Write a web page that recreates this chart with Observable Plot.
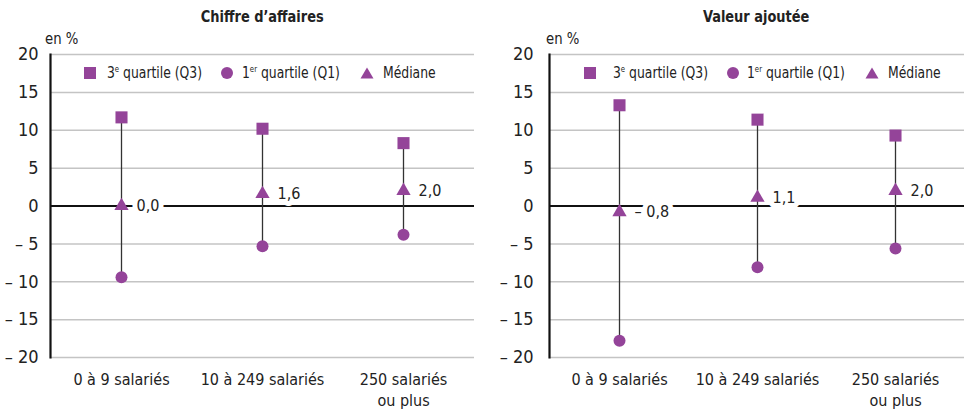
<!DOCTYPE html>
<html>
<head>
<meta charset="utf-8">
<script src="https://cdn.jsdelivr.net/npm/d3@7"></script>
<script src="https://cdn.jsdelivr.net/npm/@observablehq/plot@0.6"></script>
<style>
  body { margin: 0; background: #fff; font-family: "Liberation Sans Narrow", "Arial Narrow", "DejaVu Sans Condensed", sans-serif; }
  #wrap { position: relative; width: 964px; height: 409px; overflow: hidden; }
  .panel { position: absolute; top: 0; }
  .title { position: absolute; top: 7px; font-weight: bold; font-size: 16px; color: #222; text-align: center; white-space: nowrap; }
  .title span { display: inline-block; transform: scaleX(0.9); }
  .unit { position: absolute; top: 29px; font-size: 16px; color: #222; transform: scaleX(0.92); transform-origin: left center; }
  .legend { position: absolute; top: 63px; font-size: 16px; color: #222; white-space: nowrap; }
  .legend span.item { position: absolute; }
  .legend span.txt { transform: scaleX(0.86); transform-origin: left center; }
  .legend sup { font-size: 9px; vertical-align: 6px; line-height: 0; }
  .panel svg { position: absolute; left: 0; }
</style>
</head>
<body>
<div id="wrap"></div>
<script>
const categories = ["0 à 9 salariés", "10 à 249 salariés", "250 salariés\nou plus"];
const panelTitles = ["Chiffre d’affaires", "Valeur ajoutée"];
const yTicks = [-20, -15, -10, -5, 0, 5, 10, 15, 20];

// Chiffre d'affaires
const caQ3 = [11.7, 10.2, 8.3];
const caQ1 = [-9.4, -5.3, -3.8];
const caMed = [0.0, 1.6, 2.0];

// Valeur ajoutée
const vaQ3 = [13.3, 11.4, 9.3];
const vaQ1 = [-17.8, -8.1, -5.6];
const vaMed = [-0.8, 1.1, 2.0];

const purple = "#944499";
const font = '"Liberation Sans Narrow", "Arial Narrow", "DejaVu Sans Condensed", sans-serif';

const fmtNum = v => (v < 0 ? "– " : "") + Math.abs(v).toFixed(1).replace(".", ",");
const fmtTick = v => (v < 0 ? "– " : "") + Math.abs(v);

function makePanel(q3, q1, med, opts) {
  const rows = categories.map((c, i) => ({cat: c, q3: q3[i], q1: q1[i], med: med[i]}));
  return Plot.plot({
    width: opts.width,
    height: 381,
    marginLeft: opts.marginLeft,
    marginRight: opts.marginRight,
    marginTop: 26,
    marginBottom: 52,
    style: {fontFamily: font, fontSize: "18px", color: "#222", background: "transparent"},
    x: {type: "point", domain: categories, padding: 0.5, label: null},
    y: {domain: [-20, 20], label: null},
    marks: [
      Plot.ruleY(yTicks, {stroke: "#c4c4c4", strokeWidth: 1.5}),
      Plot.ruleY([0], {stroke: "#111", strokeWidth: 2}),
      Plot.ruleX(rows, {x: "cat", y1: "q1", y2: "q3", stroke: "#333", strokeWidth: 1.3}),
      Plot.text(rows, {x: "cat", y: "med", text: d => fmtNum(d.med), textAnchor: "start", dx: 15, dy: 0,
        fontSize: 16, fill: "#222", stroke: "white", strokeWidth: 10, paintOrder: "stroke"}),
      Plot.dot(rows, {x: "cat", y: "q3", symbol: "square", r: 6.8, fill: purple, stroke: "none"}),
      Plot.dot(rows, {x: "cat", y: "q1", symbol: "circle", r: 6, fill: purple, stroke: "none"}),
      Plot.dot(rows, {x: "cat", y: "med", symbol: "triangle", r: 5.3, fill: purple, stroke: "none"}),
      Plot.axisY({ticks: yTicks, tickSize: 0, tickPadding: opts.tickPadding, tickFormat: fmtTick, fontSize: 18, label: null}),
      Plot.axisX({tickSize: 0, tickPadding: 13, fontSize: 16, label: null, lineHeight: 1.3}),
      Plot.frame({anchor: "left", stroke: "#111", strokeWidth: 2.2})
    ]
  });
}

const wrap = document.getElementById("wrap");
const panels = [
  {left: 0, width: 482, marginLeft: 50, marginRight: 8, tickPadding: 12, q3: caQ3, q1: caQ1, med: caMed, unitX: 45,
   leg: [[90, 107], [227, 242], [367, 383]]},
  {left: 482, width: 482, marginLeft: 67, marginRight: 0, tickPadding: 16, q3: vaQ3, q1: vaQ1, med: vaMed, unitX: 64,
   leg: [[108, 131], [251, 265], [390, 406]]}
];
const legendItems = [
  {sym: "square", html: "3<sup>e</sup> quartile (Q3)"},
  {sym: "circle", html: "1<sup>er</sup> quartile (Q1)"},
  {sym: "triangle", html: "Médiane"}
];
const symPaths = {
  square: '<rect x="1" y="1" width="12" height="12" fill="' + purple + '"/>',
  circle: '<circle cx="7" cy="7" r="6" fill="' + purple + '"/>',
  triangle: '<path d="M7 1.5 L13.5 12.5 L0.5 12.5 Z" fill="' + purple + '"/>'
};

panels.forEach((p, k) => {
  const div = document.createElement("div");
  div.className = "panel";
  div.style.left = p.left + "px";
  div.style.width = p.width + "px";
  div.style.height = "409px";

  const t = document.createElement("div");
  t.className = "title";
  t.innerHTML = "<span></span>";
  t.firstChild.textContent = panelTitles[k];
  t.style.left = p.marginLeft + "px";
  t.style.width = (p.width - p.marginLeft - p.marginRight) + "px";
  div.appendChild(t);

  const u = document.createElement("div");
  u.className = "unit";
  u.textContent = "en %";
  u.style.left = p.unitX + "px";
  div.appendChild(u);

  const svg = makePanel(p.q3, p.q1, p.med, p);
  svg.style.top = "28px";
  div.appendChild(svg);

  const leg = document.createElement("div");
  leg.className = "legend";
  legendItems.forEach((it, i) => {
    const s = document.createElement("span");
    s.className = "item";
    s.style.left = (p.leg[i][0] - 7) + "px";
    s.style.top = "2px";
    s.innerHTML = '<svg width="14" height="14" style="position:static">' + symPaths[it.sym] + '</svg>';
    leg.appendChild(s);
    const l = document.createElement("span");
    l.className = "item txt";
    l.style.left = p.leg[i][1] + "px";
    l.innerHTML = it.html;
    leg.appendChild(l);
  });
  div.appendChild(leg);
  wrap.appendChild(div);
});
</script>
</body>
</html>
